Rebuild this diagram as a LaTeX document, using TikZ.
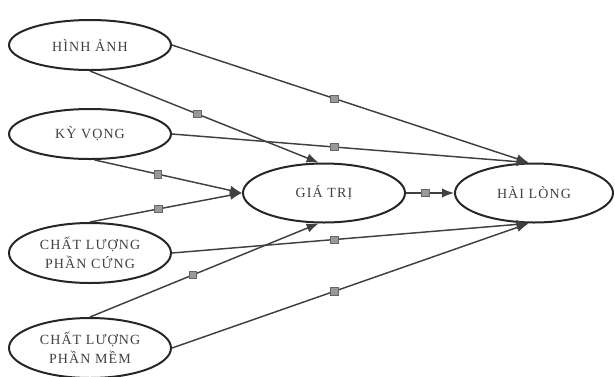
\documentclass[tikz,border=0pt]{standalone}
\usepackage{fontspec}
\setmainfont{Liberation Serif}
\newfontfamily\labelfont[LetterSpace=8]{Liberation Serif}
\usepackage{tikz}
\usetikzlibrary{arrows.meta,shapes.geometric}

\begin{document}
\begin{tikzpicture}[x=0.75pt, y=-0.75pt,
  construct/.style={draw=black!85, ellipse, line width=1.5pt, align=center, font=\labelfont\fontsize{10.5}{14}\selectfont, text=black!75,
    minimum width=162*0.75pt, minimum height=50*0.75pt, inner sep=0pt},
  rel/.style={draw=black!75, line width=1.1pt, -{Latex[length=9pt,width=7pt]}},
  pathbox/.style={draw=black!60, fill=black!40, line width=0.5pt, minimum size=5.5pt, inner sep=0pt},
  >=Latex]
\useasboundingbox (0,0) rectangle (615,376);
% predictors
\node[construct] (HA) at (90,45) {HÌNH ẢNH};
\node[construct] (KV) at (90,134) {KỲ VỌNG};
\node[construct, minimum height=60*0.75pt] (CU) at (90,253) {CHẤT LƯỢNG\\PHẦN CỨNG};
\node[construct, minimum height=60*0.75pt] (ME) at (90,348) {CHẤT LƯỢNG\\PHẦN MỀM};
% mediator and outcome
\node[construct, minimum height=59*0.75pt] (GT) at (324,193) {GIÁ TRỊ};
\node[construct, minimum width=158*0.75pt, minimum height=59*0.75pt] (HL) at (534,193) {HÀI LÒNG};
% paths
\draw[rel] (HA.east) -- node[pathbox, pos=0.455] {} (HL.100);
\draw[rel] (HA.south) -- node[pathbox, pos=0.47] {} (GT.100);
\draw[rel] (KV.east) -- node[pathbox, pos=0.455] {} (HL.100);
\draw[rel] (KV.-80) -- node[pathbox, pos=0.43] {} (GT.west);
\draw[rel] (CU.north) -- node[pathbox, pos=0.45] {} (GT.west);
\draw[rel] (CU.east) -- node[pathbox, pos=0.455] {} (HL.-100);
\draw[rel] (ME.north) -- node[pathbox, pos=0.45] {} (GT.-100);
\draw[rel] (ME.east) -- node[pathbox, pos=0.455] {} (HL.-100);
\draw[rel] (GT.east) -- node[pathbox, pos=0.4] {} (HL.west);
\end{tikzpicture}
\end{document}
